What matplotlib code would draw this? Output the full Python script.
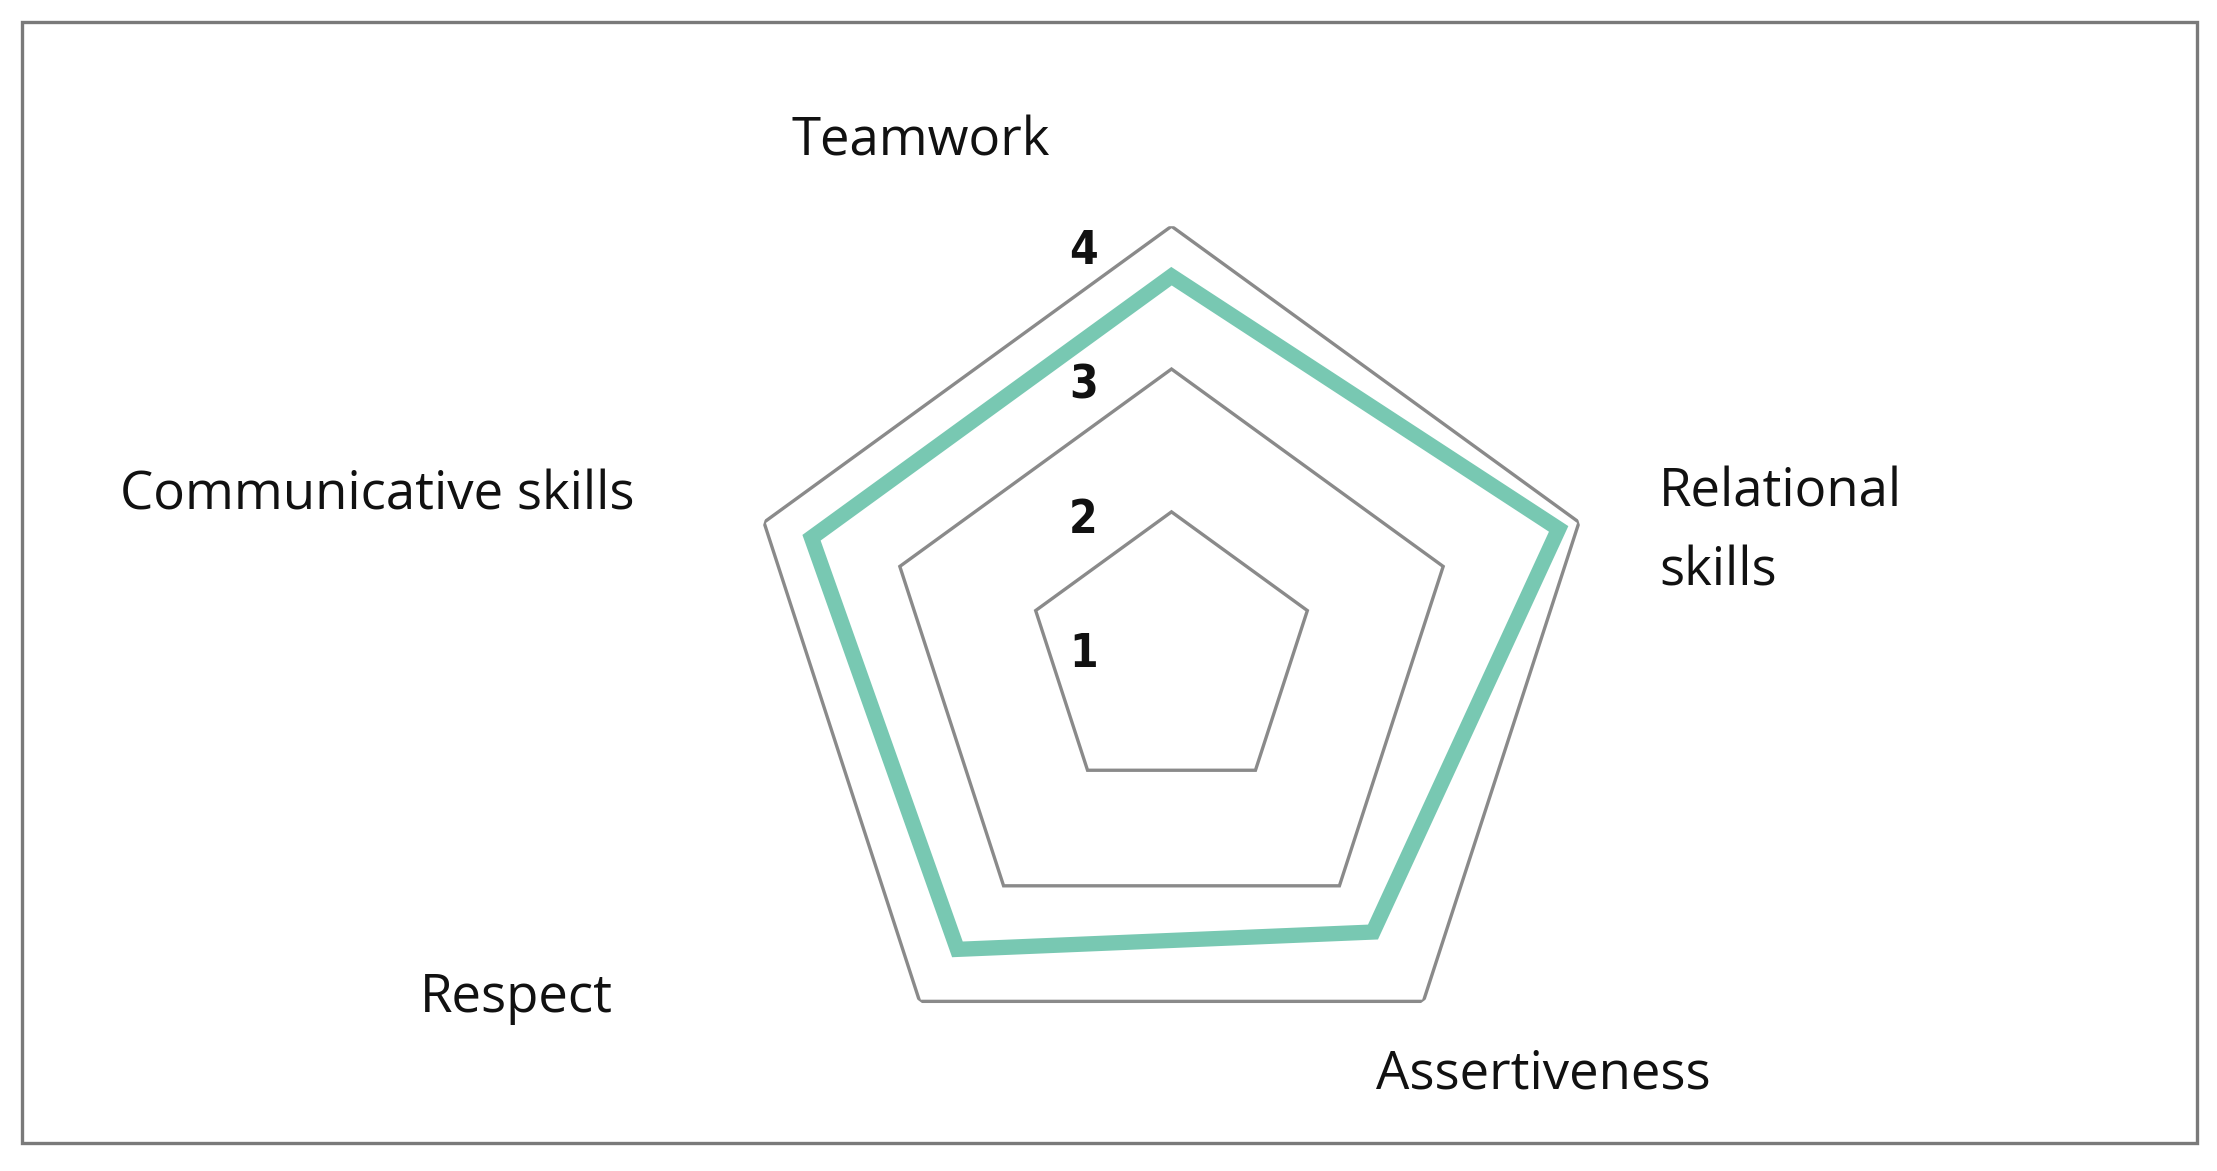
import numpy as np
import matplotlib
matplotlib.use("Agg")
import matplotlib.pyplot as plt
from matplotlib.patches import Rectangle

categories = ["Teamwork", "Relational\nskills", "Assertiveness", "Respect", "Communicative skills"]
values = [3.65, 3.85, 3.40, 3.55, 3.65]
ring_levels = [2, 3, 4]
tick_labels = ["1", "2", "3", "4"]

W, H = 2217, 1171
fig = plt.figure(figsize=(W / 100, H / 100), dpi=100)
fig.patch.set_facecolor("white")

# border frame
fig.add_artist(Rectangle((22 / W, 1 - 1143 / H), (2197 - 22) / W, (1143 - 22) / H,
                         transform=fig.transFigure, fill=False, edgecolor="#7a7a7a", lw=2.4))

cx, cy, R = 1171.5, 654.7, 428.5
ax = fig.add_axes([(cx - R) / W, (H - cy - R) / H, 2 * R / W, 2 * R / H], projection="polar")
ax.set_theta_offset(np.pi / 2)
ax.set_theta_direction(-1)
ax.set_ylim(1, 4)
ax.grid(False)
ax.spines["polar"].set_visible(False)
ax.set_xticks([])
ax.set_yticks([])
ax.patch.set_alpha(0)

n = len(categories)
angles = np.linspace(0, 2 * np.pi, n, endpoint=False)

for lvl in ring_levels:
    ax.fill(angles, [lvl] * n, facecolor="none", edgecolor="#8a8a8a", lw=2.4, joinstyle="miter")

ax.fill(angles, values, facecolor="none", edgecolor="#78c8b2", lw=11, joinstyle="miter", zorder=5)

for i, t in enumerate(tick_labels):
    v = i + 1
    ax.annotate(t, xy=(0, 1 + 0.94 * (v - 1)), xytext=(-88, 0), textcoords="offset pixels",
                ha="center", va="center", fontsize=33, fontweight="bold", fontstretch="condensed",
                family=["DejaVu Sans"], color="#111111")

label_pos = {
    "Teamwork": (792, 142),
    "Relational\nskills": (1659, 532),
    "Assertiveness": (1376, 1075),
    "Respect": (420, 998),
    "Communicative skills": (120, 496),
}
for c in categories:
    x, y = label_pos[c]
    fig.text(x / W, 1 - y / H, c, ha="left", va="center", fontsize=38,
             family=["Open Sans", "DejaVu Sans"], color="#111111", linespacing=1.62)

fig.savefig("out.png", dpi=100)
